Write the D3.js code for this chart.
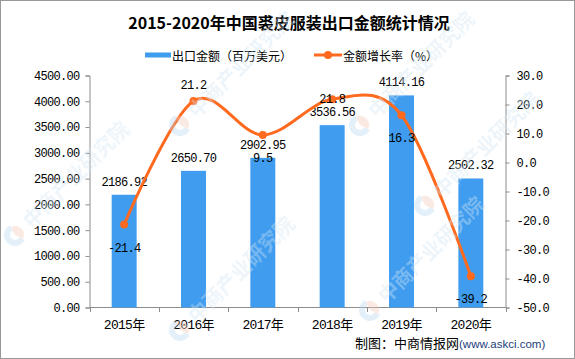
<html>
<meta charset='utf-8'>
<head>
    <script src="https://d3js.org/d3.v7.min.js"></script>
    <style>
      body { margin: 0; background: #fff; }
      .num { font-family: "Liberation Mono", "Noto Sans CJK SC", monospace; font-size: 12px; letter-spacing: -0.7px; fill: #000; }
      .cjk { font-family: "Noto Sans CJK SC", sans-serif; }
    </style>
</head>
<body>
<div id='viz'></div>
<script>
    // data
    let years = ['2015年', '2016年', '2017年', '2018年', '2019年', '2020年'];
    let exportValue = [2186.92, 2650.70, 2902.95, 3536.56, 4114.16, 2502.32];
    let growthRate = [-21.4, 21.2, 9.5, 21.8, 16.3, -39.2];
    let leftTicks = [0, 500, 1000, 1500, 2000, 2500, 3000, 3500, 4000, 4500];
    let rightTicks = [-50, -40, -30, -20, -10, 0, 10, 20, 30];
    // where each growth label sits: below / above / on the point
    let rateLabelPos = ['b', 't', 'b', 'c', 'b', 'b'];

    let W = 575, H = 359;
    let blue = '#3f9cee', orange = '#ff6a1f', axisCol = '#8c8c8c';

    let svg = d3.select('#viz').append('svg')
                .attr('width', W)
                .attr('height', H);

    let x = d3.scaleBand().domain(years).range([89.5, 505.5]).paddingInner(0.64).paddingOuter(0.32);
    let yL = d3.scaleLinear().domain([0, 4500]).range([307.5, 75.5]);
    let yR = d3.scaleLinear().domain([-50, 30]).range([307.5, 75.5]);

    // title
    svg.append('text').attr('class', 'cjk')
       .attr('x', 289).attr('y', 29)
       .attr('text-anchor', 'middle')
       .attr('font-size', 16).attr('font-weight', 700)
       .text('2015-2020年中国裘皮服装出口金额统计情况');

    // legend
    svg.append('rect').attr('x', 145).attr('y', 52.5).attr('width', 26).attr('height', 5).attr('fill', blue);
    svg.append('text').attr('class', 'cjk').attr('x', 172).attr('y', 61).attr('font-size', 12)
       .text('出口金额（百万美元）');
    svg.append('line').attr('x1', 314).attr('x2', 342).attr('y1', 55).attr('y2', 55)
       .attr('stroke', orange).attr('stroke-width', 3);
    svg.append('circle').attr('cx', 328).attr('cy', 55).attr('r', 4).attr('fill', orange);
    svg.append('text').attr('class', 'cjk').attr('x', 343).attr('y', 61).attr('font-size', 12)
       .text('金额增长率（%）');

    // axes
    let axL = svg.append('g').attr('transform', 'translate(89.5,0)')
      .call(d3.axisLeft(yL).tickValues(leftTicks).tickFormat(d3.format('.2f')).tickSize(4).tickPadding(6));
    let axR = svg.append('g').attr('transform', 'translate(505.5,0)')
      .call(d3.axisRight(yR).tickValues(rightTicks).tickFormat(d3.format('.1f')).tickSize(4).tickPadding(7));
    [axL, axR].forEach(a => {
      a.select('.domain').attr('stroke', axisCol);
      a.selectAll('.tick line').attr('stroke', axisCol);
      a.selectAll('.tick text').attr('class', 'num').attr('fill', '#000');
      a.selectAll('.tick text').text(function() { return d3.select(this).text().replace('−', '-'); });
    });

    let xAxis = svg.append('g');
    xAxis.append('line').attr('x1', 89.5).attr('x2', 505.5).attr('y1', 307.5).attr('y2', 307.5).attr('stroke', axisCol);
    d3.range(years.length + 1).forEach(i => {
      let tx = Math.round(x.range()[0] + i * x.step()) + 0.5;
      xAxis.append('line').attr('x1', tx).attr('x2', tx).attr('y1', 307.5).attr('y2', 312).attr('stroke', axisCol);
    });
    xAxis.selectAll('text.year').data(years).join('text')
      .attr('class', 'num')
      .attr('x', d => x(d) + x.bandwidth() / 2)
      .attr('y', 329)
      .attr('text-anchor', 'middle')
      .style('font-size', '13px')
      .text(d => d);

    // bars
    svg.selectAll('rect.bar').data(exportValue).join('rect')
      .attr('class', 'bar')
      .attr('x', (d, i) => x(years[i]))
      .attr('width', x.bandwidth())
      .attr('y', d => yL(d))
      .attr('height', d => yL(0) - yL(d))
      .attr('fill', blue);

    svg.selectAll('text.barlab').data(exportValue).join('text')
      .attr('class', 'num barlab')
      .attr('x', (d, i) => x(years[i]) + x.bandwidth() / 2)
      .attr('y', d => yL(d) - 9)
      .attr('text-anchor', 'middle')
      .text(d => d.toFixed(2));

    // growth line
    let pts = growthRate.map((d, i) => [x(years[i]) + x.bandwidth() / 2, yR(d)]);
    svg.append('path')
      .attr('d', d3.line().curve(d3.curveCatmullRom.alpha(0))(pts))
      .attr('fill', 'none')
      .attr('stroke', orange)
      .attr('stroke-width', 3);
    svg.selectAll('circle.pt').data(pts).join('circle')
      .attr('class', 'pt')
      .attr('cx', d => d[0]).attr('cy', d => d[1]).attr('r', 4)
      .attr('fill', orange);

    let off = {b: 27, t: -12, c: 4};
    svg.selectAll('text.ratelab').data(growthRate).join('text')
      .attr('class', 'num ratelab')
      .attr('x', (d, i) => pts[i][0])
      .attr('y', (d, i) => pts[i][1] + off[rateLabelPos[i]])
      .attr('text-anchor', 'middle')
      .text(d => d.toFixed(1));

    // source
    let src = svg.append('text').attr('x', 355).attr('y', 348).attr('class', 'cjk').attr('font-size', 13);
    src.append('tspan').text('制图：中商情报网');
    src.append('tspan').attr('font-size', 11.5).attr('fill', '#23407a')
       .attr('font-family', 'Liberation Sans, sans-serif').text('(www.askci.com)');

    // watermark on top, faint (kept inside the picture)
    let wm = svg.append('g').attr('opacity', 0.4);
    [[15, 235], [180, 125], [360, 125], [180, 330], [370, 310], [425, 205]].forEach(p => {
        let g = wm.append('g').attr('transform', `translate(${p[0]},${p[1]}) rotate(-45)`);
        g.append('path').attr('d', d3.arc()({innerRadius: 5, outerRadius: 11, startAngle: Math.PI * 0.9, endAngle: Math.PI * 2.1}))
         .attr('fill', '#bcd9ef');
        g.append('path').attr('d', d3.arc()({innerRadius: 0, outerRadius: 9, startAngle: Math.PI * 0.1, endAngle: Math.PI * 0.9}))
         .attr('fill', '#f4cbb8');
        g.append('text').attr('class', 'cjk').attr('x', 16).attr('y', 8)
         .attr('font-size', 20).attr('font-weight', 700).attr('fill', '#d3e6f4')
         .text('中商产业研究院');
    });

    // frame
    svg.append('rect').attr('x', 0.5).attr('y', 0.5).attr('width', W - 1).attr('height', H - 1)
       .attr('fill', 'none').attr('stroke', '#999');
</script>
</body>
</html>
